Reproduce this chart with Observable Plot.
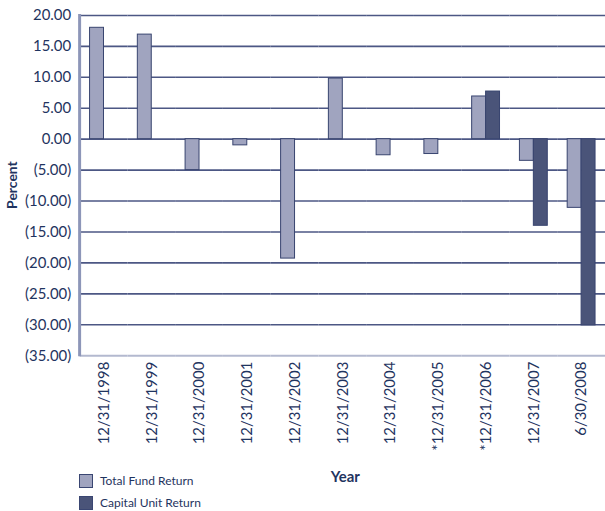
<!DOCTYPE html>
<html>
<head>
<meta charset="utf-8">
<script src="https://cdn.jsdelivr.net/npm/d3@7"></script>
<script src="https://cdn.jsdelivr.net/npm/@observablehq/plot@0.6"></script>
<style>
  html, body { margin: 0; padding: 0; background: #fff; overflow: hidden; }
  #wrap { position: relative; width: 605px; height: 511px; overflow: hidden; font-family: Lato, sans-serif; color: #1f3460; }
  #legend { position: absolute; left: 79px; top: 470px; font-size: 12px; line-height: 14px; }
  .item { display: flex; align-items: center; height: 22px; }
  .sw { width: 12px; height: 12px; border: 1px solid #3a4672; margin-right: 7px; box-sizing: content-box; }
</style>
</head>
<body>
<div id="wrap"></div>
<script>
const categories = ["12/31/1998","12/31/1999","12/31/2000","12/31/2001","12/31/2002","12/31/2003","12/31/2004","*12/31/2005","*12/31/2006","12/31/2007","6/30/2008"];
const seriesNames = ["Total Fund Return","Capital Unit Return"];
const totalFund = [18.0, 16.9, -5.0, -1.0, -19.3, 9.8, -2.6, -2.4, 6.9, -3.5, -11.1];
const capitalUnit = [null, null, null, null, null, null, null, null, 7.7, -14.0, -30.1];
const yTicks = [20, 15, 10, 5, 0, -5, -10, -15, -20, -25, -30, -35];
const colors = ["#a0a4bf", "#4a5479"];

const rows = [];
categories.forEach((c, i) => {
  if (totalFund[i] != null) rows.push({date: c, series: seriesNames[0], value: totalFund[i]});
  if (capitalUnit[i] != null) rows.push({date: c, series: seriesNames[1], value: capitalUnit[i]});
});

const fmt = d => d < 0 ? `(${(-d).toFixed(2)})` : d.toFixed(2);

const chart = Plot.plot({
  width: 608,
  height: 511,
  marginLeft: 80,
  marginRight: 0,
  marginTop: 15,
  marginBottom: 154,
  style: {fontFamily: "Lato, sans-serif", fontSize: "15px", color: "#1f3460", background: "transparent"},
  fx: {domain: categories, padding: 0, axis: "bottom", tickRotate: -90, tickSize: 0, tickPadding: 6, label: null},
  x: {domain: seriesNames, paddingInner: 0, paddingOuter: 0.714, axis: null},
  y: {domain: [-35, 20], ticks: yTicks, tickFormat: fmt, tickSize: 0, tickPadding: 9, label: null},
  color: {domain: seriesNames, range: colors},
  marks: [
    Plot.ruleY(yTicks.filter(d => d > -35), {stroke: "#4c5784", strokeWidth: 1.6}),
    Plot.ruleY([-35], {stroke: "#b3b9cf", strokeWidth: 2}),
    Plot.barY(rows, {fx: "date", x: "series", y: "value", fill: "series", stroke: "#38446f", strokeWidth: 1})
  ]
});

const wrap = document.getElementById("wrap");
wrap.appendChild(chart);

// left border of the plot frame, placed with the library's own scales
const fxScale = chart.scale("fx");
const yScale = chart.scale("y");
const svg = d3.select(chart);
const x0 = fxScale.range[0];
svg.append("line")
  .attr("x1", x0).attr("x2", x0)
  .attr("y1", yScale.range[0] + 1).attr("y2", yScale.range[1] - 1)
  .attr("stroke", "#8d96b8").attr("stroke-width", 3);

// axis titles
svg.append("text")
  .attr("transform", `translate(17,${(yScale.range[0] + yScale.range[1]) / 2}) rotate(-90)`)
  .attr("text-anchor", "middle")
  .attr("font-weight", "bold").attr("font-size", 14).attr("fill", "#1f3460")
  .text("Percent");
svg.append("text")
  .attr("x", (fxScale.range[0] + fxScale.range[1]) / 2 + 3)
  .attr("y", 484)
  .attr("text-anchor", "middle")
  .attr("font-weight", "bold").attr("font-size", 15).attr("fill", "#1f3460")
  .text("Year");

// legend
const legend = document.createElement("div");
legend.id = "legend";
seriesNames.forEach((s, i) => {
  const it = document.createElement("div");
  it.className = "item";
  const sw = document.createElement("div");
  sw.className = "sw";
  sw.style.background = colors[i];
  const t = document.createElement("span");
  t.textContent = s;
  it.appendChild(sw); it.appendChild(t);
  legend.appendChild(it);
});
wrap.appendChild(legend);
</script>
</body>
</html>
